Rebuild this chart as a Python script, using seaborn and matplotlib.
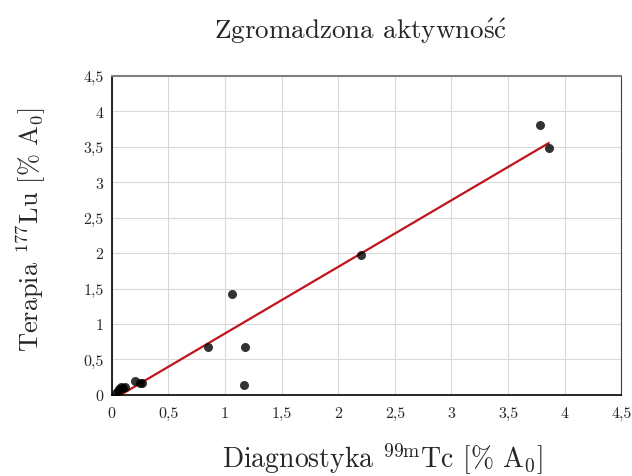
import matplotlib
matplotlib.use('Agg')
import matplotlib.pyplot as plt
import seaborn as sb
import numpy as np
import pandas as pd
from matplotlib.ticker import MultipleLocator, FuncFormatter

# diagnostyka 99mTc vs terapia 177Lu [% A0]
diagnostyka = [0.04, 0.05, 0.06, 0.08, 0.10, 0.12, 0.20, 0.25, 0.27, 0.85, 1.06, 1.17, 1.18, 2.20, 3.78, 3.86]
terapia = [0.02, 0.05, 0.08, 0.11, 0.10, 0.11, 0.19, 0.17, 0.17, 0.68, 1.43, 0.14, 0.68, 1.98, 3.80, 3.48]

df = pd.DataFrame({'Diagnostyka': diagnostyka, 'Terapia': terapia})

sb.set_style('white')
plt.rcParams['font.family'] = ['cmr10', 'DejaVu Serif']
plt.rcParams['mathtext.fontset'] = 'cm'
plt.rcParams['axes.formatter.use_mathtext'] = True

fig = plt.figure(figsize=(6.32, 4.77), dpi=100)
ax = fig.add_axes([0.177, 0.170, 0.806, 0.669])

sb.regplot(x='Diagnostyka', y='Terapia', data=df, ci=None, ax=ax,
           scatter_kws={'color': 'black', 's': 42, 'zorder': 3, 'linewidths': 0},
           line_kws={'color': '#c0141c', 'lw': 1.6, 'zorder': 2})

ax.set_xlim(0, 4.5)
ax.set_ylim(0, 4.5)
ax.xaxis.set_major_locator(MultipleLocator(0.5))
ax.yaxis.set_major_locator(MultipleLocator(0.5))
fmt = FuncFormatter(lambda v, p: ('%g' % v).replace('.', ','))
ax.xaxis.set_major_formatter(fmt)
ax.yaxis.set_major_formatter(fmt)
ax.tick_params(labelsize=11.5, length=0)
ax.tick_params(axis='x', pad=8)
ax.tick_params(axis='y', pad=6)
ax.grid(True, color='#d9d9d9', lw=0.8)
ax.set_axisbelow(True)

for s in ['left', 'bottom']:
    ax.spines[s].set_color('black')
    ax.spines[s].set_linewidth(1.2)
ax.spines['right'].set_color('#404040')
ax.spines['top'].set_color('#808080')
ax.spines['top'].set_linewidth(1.5)

ax.set_xlabel('Diagnostyka $^{99\\mathrm{m}}$Tc [% A$_0$]', fontsize=20)
ax.xaxis.set_label_coords(0.53, -0.142)
ax.set_ylabel('Terapia $^{177}$Lu [% A$_0$]', fontsize=19)
ax.yaxis.set_label_coords(-0.125, 0.52)
fig.suptitle('Zgromadzona aktywno$\\acute{\\mathrm{s}}\\acute{\\mathrm{c}}$', fontsize=19.5, x=0.57, y=0.965)

fig.savefig('out.png', dpi=100)
